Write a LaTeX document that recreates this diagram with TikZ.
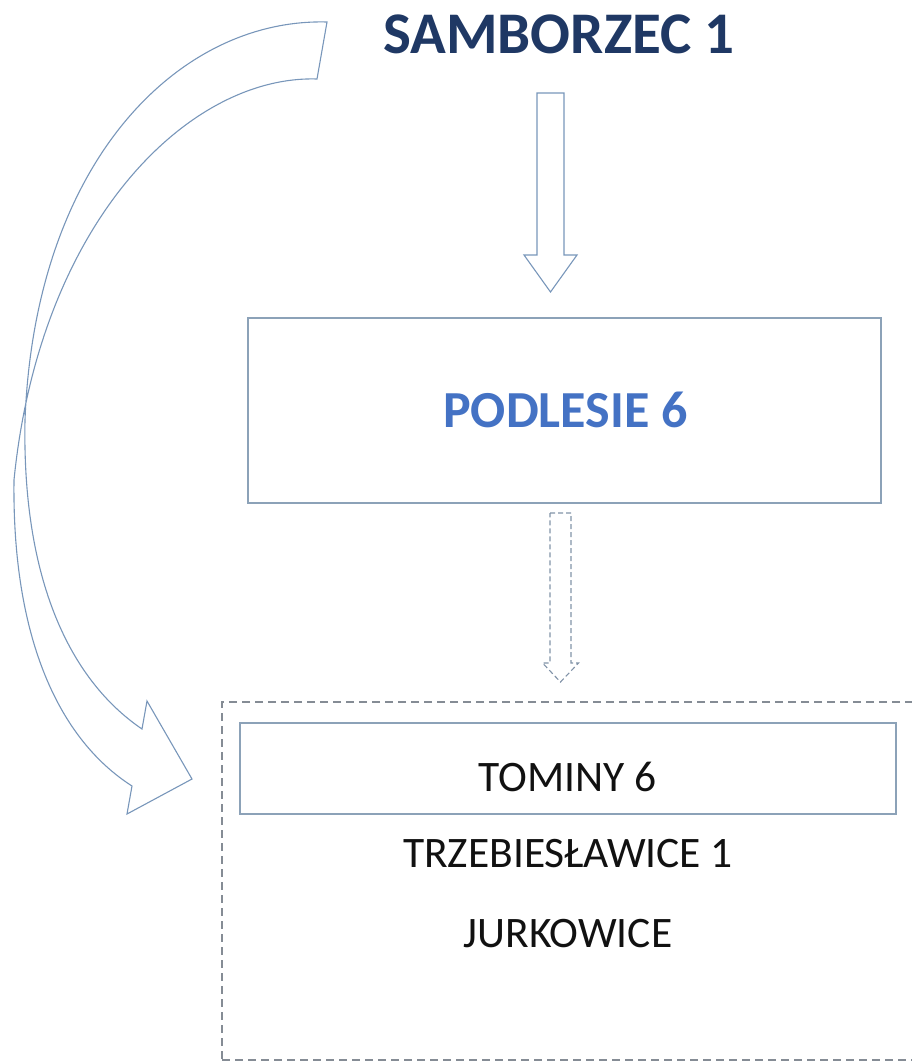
\documentclass[tikz,border=0pt]{standalone}
\usepackage{fontspec}
\setmainfont{Carlito}
\usetikzlibrary{calc}
\definecolor{navy}{HTML}{1F3864}
\definecolor{accent}{HTML}{4472C4}
\definecolor{arrowline}{HTML}{7896BA}
\definecolor{boxline}{HTML}{8CA2B8}
\definecolor{dashline}{HTML}{858C95}
\definecolor{dasharrowline}{HTML}{8193A8}
\definecolor{ink}{HTML}{111111}
\newcommand{\blockdown}[7]{% options, center x, top y, shaft bottom y, tip y, half shaft, half head
  \draw[#1] (#2-#6,#3) -- (#2+#6,#3) -- (#2+#6,#4) -- (#2+#7,#4) -- (#2,#5)
    -- (#2-#7,#4) -- (#2-#6,#4) -- cycle;}
\begin{document}
\begin{tikzpicture}[x=1pt,y=-1pt,
  blockarrow/.style={draw=arrowline, line width=1.1pt, line join=miter},
  dasharrow/.style={draw=dasharrowline, line width=1.1pt, dash pattern=on 5pt off 3pt},
  mainbox/.style={draw=boxline, line width=1.2pt, inner sep=0pt},
  groupbox/.style={draw=dashline, line width=1.2pt, dash pattern=on 8pt off 5pt, inner sep=0pt},
  place/.style={font=\fontsize{43.5}{50}\selectfont, text=ink, inner sep=0pt}]
\useasboundingbox (0,0) rectangle (911,1063);

% title
\node[font=\fontsize{59}{66}\selectfont\bfseries, text=navy, inner sep=0pt] (s) at (559,34) {SAMBORZEC 1};

% middle box
\node[mainbox, minimum width=633pt, minimum height=185pt] (p) at (564.5,410.5) {};
\node[font=\fontsize{52}{60}\selectfont\bfseries, text=accent, inner sep=0pt] (pt) at (565.5,410) {PODLESIE 6};

% group box
\node[groupbox, minimum width=693pt, minimum height=358pt] (g) at (568.5,881) {};
\node[mainbox, minimum width=656pt, minimum height=91pt] (t) at (568,768.5) {};
\node[place] (tt) at (568,777) {TOMINY 6};
\node[place] (tr) at (568,854) {TRZEBIESŁAWICE 1};
\node[place] (ju) at (568,934) {JURKOWICE};

% straight block arrows
\blockdown{blockarrow}{550.5}{93}{255}{292}{13.5}{26.5}
\blockdown{dasharrow}{560.5}{513}{663}{682}{10.5}{18}

% curved block arrow
\coordinate (ct) at (327,22);
\coordinate (cb) at (317,79);
\coordinate (tip) at (192,779);
\draw[blockarrow] (ct) .. controls (180,18) and (35,160) .. (25,420)
  .. controls (22,580) and (70,680) .. (142,729) -- (147,701) -- (tip)
  -- (127,814) -- (132,786) .. controls (60,740) and (12,640) .. (14,480)
  .. controls (40,220) and (190,75) .. (cb) -- cycle;
\end{tikzpicture}
\end{document}
